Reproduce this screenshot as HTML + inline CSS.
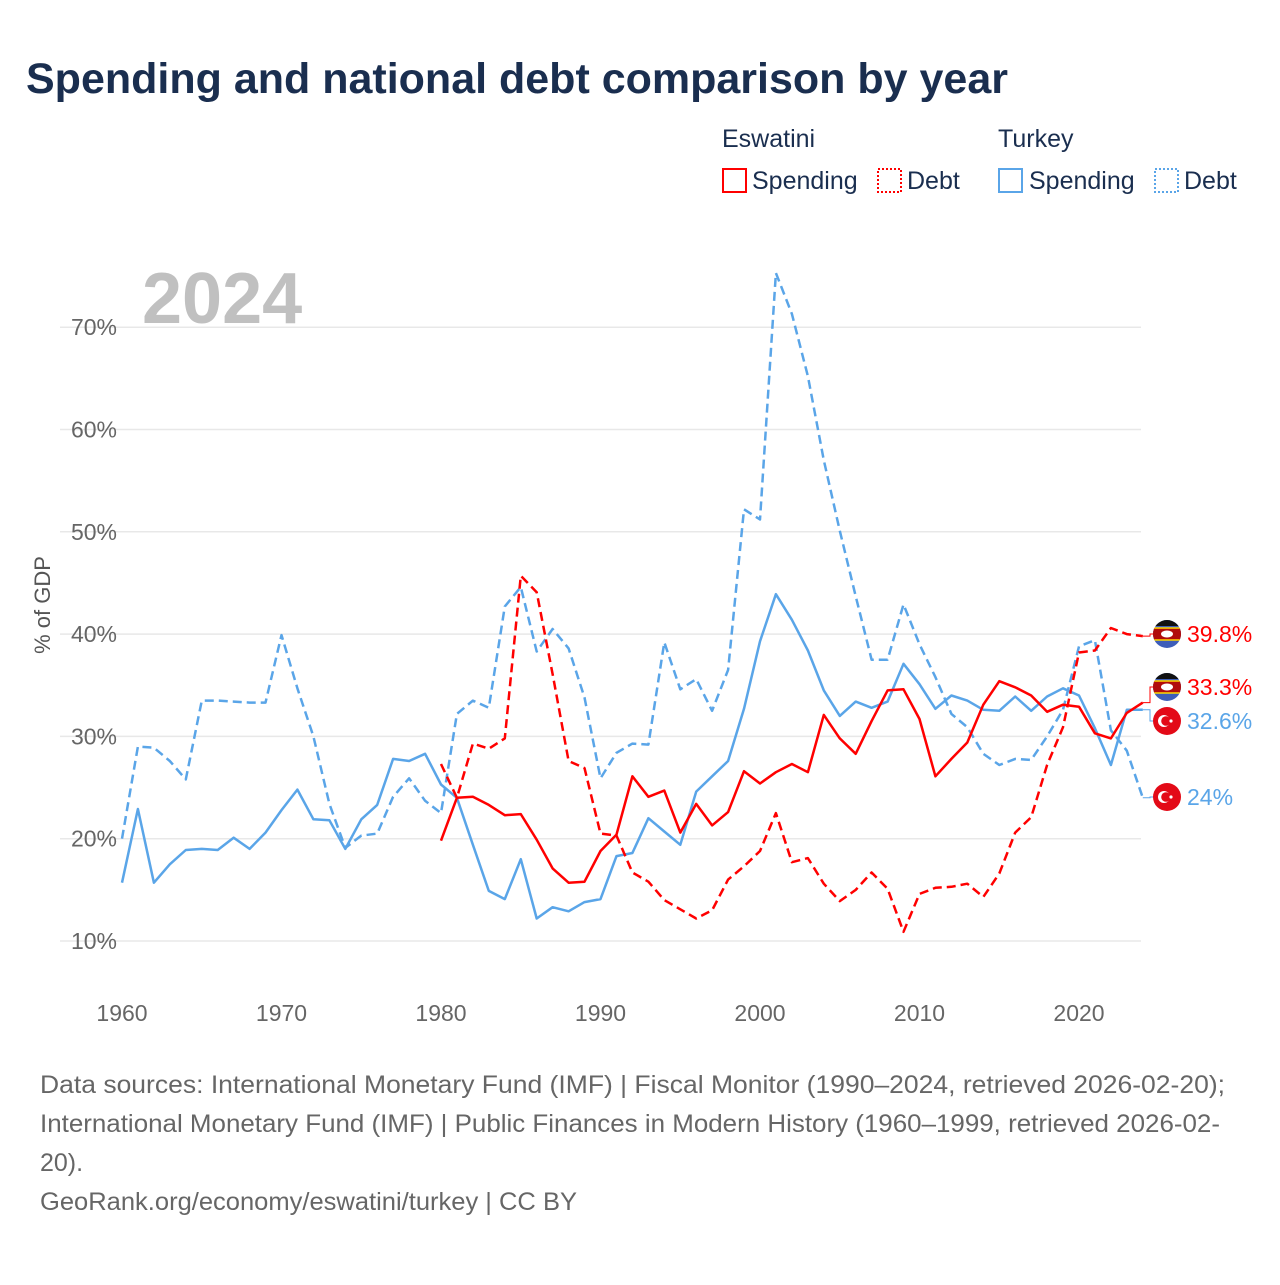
<!DOCTYPE html>
<html><head><meta charset="utf-8"><style>
body{margin:0;background:#fff;font-family:"Liberation Sans",sans-serif;}
svg text{font-family:"Liberation Sans",sans-serif;}
</style></head><body>
<svg width="1280" height="1280" viewBox="0 0 1280 1280">
<defs><clipPath id="fc"><circle cx="0" cy="0" r="14"/></clipPath></defs>
<text x="26" y="93" font-size="43" font-weight="bold" fill="#1a2e4f">Spending and national debt comparison by year</text>
<g font-size="25" fill="#1a2e4f">
<text x="722" y="147" fill="#1a2e4f">Eswatini</text>
<text x="998" y="147" fill="#1a2e4f">Turkey</text>
<rect x="723" y="169" width="23" height="23" fill="none" stroke="red" stroke-width="2"/>
<text x="752" y="189" fill="#1a2e4f">Spending</text>
<rect x="878" y="169" width="23" height="23" fill="none" stroke="red" stroke-width="2" stroke-dasharray="2,2"/>
<text x="907" y="189" fill="#1a2e4f">Debt</text>
<rect x="999" y="169" width="23" height="23" fill="none" stroke="#5aa5e8" stroke-width="2"/>
<text x="1029" y="189" fill="#1a2e4f">Spending</text>
<rect x="1155" y="169" width="23" height="23" fill="none" stroke="#5aa5e8" stroke-width="2" stroke-dasharray="2,2"/>
<text x="1184" y="189" fill="#1a2e4f">Debt</text>
</g>
<text x="142" y="323" font-size="72" font-weight="bold" fill="#c0c0c0">2024</text>
<g id="grid"></g><g id="lines"></g><g id="ends"></g>
<text transform="translate(50,605) rotate(-90)" text-anchor="middle" font-size="22" fill="#555">% of GDP</text>
<g font-size="25" fill="#666">
<text x="40" y="1093" textLength="1185" lengthAdjust="spacingAndGlyphs">Data sources: International Monetary Fund (IMF) | Fiscal Monitor (1990–2024, retrieved 2026-02-20);</text>
<text x="40" y="1132" textLength="1180" lengthAdjust="spacingAndGlyphs">International Monetary Fund (IMF) | Public Finances in Modern History (1960–1999, retrieved 2026-02-</text>
<text x="40" y="1171">20).</text>
<text x="40" y="1210" textLength="537" lengthAdjust="spacingAndGlyphs">GeoRank.org/economy/eswatini/turkey | CC BY</text>
</g>
</svg>
<script>
const yTicks=[10,20,30,40,50,60,70];
const xTicks=[1960,1970,1980,1990,2000,2010,2020];
const turkeySpending=[15.7,22.9,15.7,17.5,18.9,19.0,18.9,20.1,19.0,20.6,22.8,24.8,21.9,21.8,19.0,21.9,23.3,27.8,27.6,28.3,25.3,24.0,19.4,14.9,14.1,18.0,12.2,13.3,12.9,13.8,14.1,18.3,18.6,22.0,20.7,19.4,24.6,26.1,27.6,32.7,39.3,43.9,41.4,38.4,34.5,32.0,33.4,32.8,33.4,37.1,35.1,32.7,34.0,33.5,32.6,32.5,33.9,32.5,33.9,34.7,34.0,30.8,27.2,32.6,32.6];
const turkeyDebt=[20.0,29.0,28.9,27.6,25.8,33.5,33.5,33.4,33.3,33.3,39.9,34.7,30.0,23.4,19.1,20.3,20.5,24.1,25.9,23.7,22.5,32.2,33.5,32.8,42.7,44.6,38.3,40.5,38.6,33.8,25.9,28.4,29.3,29.2,39.2,34.6,35.6,32.5,36.5,52.2,51.2,75.3,71.3,65.2,57.0,50.1,43.7,37.5,37.5,42.9,39.0,35.8,32.2,30.9,28.3,27.2,27.8,27.7,30.0,32.6,38.8,39.4,30.6,28.6,24.0];
const eswSpending=[19.8,24.0,24.1,23.3,22.3,22.4,19.9,17.1,15.7,15.8,18.8,20.4,26.1,24.1,24.7,20.6,23.4,21.3,22.6,26.6,25.4,26.5,27.3,26.5,32.1,29.8,28.3,31.5,34.5,34.6,31.7,26.1,27.8,29.4,33.1,35.4,34.8,34.0,32.4,33.1,32.9,30.3,29.8,32.3,33.3];
const eswDebt=[27.3,24.0,29.3,28.8,29.8,45.7,44.1,36.1,27.6,26.9,20.5,20.3,16.7,15.8,14.0,13.1,12.2,13.0,16.0,17.3,18.8,22.5,17.7,18.1,15.6,13.9,15.0,16.7,15.1,10.9,14.6,15.2,15.3,15.6,14.3,16.6,20.6,22.1,27.2,30.9,38.2,38.4,40.6,40.0,39.8];
const NS='http://www.w3.org/2000/svg';
const X=yr=>122+(yr-1960)*15.95;
const Y=v=>941-(v-10)*10.23;
function mk(t,a,p){const e=document.createElementNS(NS,t);for(const k in a)e.setAttribute(k,a[k]);p.appendChild(e);return e;}
const grid=document.getElementById('grid');
yTicks.forEach(v=>{
 const l=mk('line',{x1:60,x2:1141,y1:Y(v),y2:Y(v),stroke:'#e8e8e8','stroke-width':1.5},grid);
 
 
 const t=mk('text',{x:117,y:Y(v)+8,'text-anchor':'end','font-size':23,fill:'#666'},grid);
 t.textContent=v+'%';
 
 
});
xTicks.forEach(yr=>{
 const t=mk('text',{x:X(yr),y:1021,'text-anchor':'middle','font-size':23,fill:'#666'},grid);
 t.textContent=yr;
 
 
});
const lines=document.getElementById('lines');
function series(arr,start,color,dash,name){
 const d=arr.map((v,i)=>(i?'L':'M')+X(start+i).toFixed(1)+','+Y(v).toFixed(1)).join('');
 const p=mk('path',{d:d,fill:'none',stroke:color,'stroke-width':2.5,'stroke-linejoin':'round'},lines);
 if(dash)p.setAttribute('stroke-dasharray','9,5');
 
 
}
series(turkeyDebt,1960,'#5aa5e8',true,'turkey-debt-line');
series(turkeySpending,1960,'#5aa5e8',false,'turkey-spending-line');
series(eswDebt,1980,'red',true,'eswatini-debt-line');
series(eswSpending,1980,'red',false,'eswatini-spending-line');
const ends=document.getElementById('ends');
function endLabel(v,ly,color,flag,name){
 const x0=X(2024);
 mk('path',{d:`M${x0},${Y(v)}H1150V${ly}H1154`,fill:'none',stroke:color,'stroke-width':1},ends);
 const g=mk('g',{},ends);
 
 
 const f=mk('g',{transform:`translate(1167,${ly})`,'clip-path':'url(#fc)'},g);
 if(flag==='sz'){
  mk('rect',{x:-15,y:-15,width:30,height:30,fill:'#3e5eb9'},f);
  mk('rect',{x:-15,y:-15,width:30,height:7,fill:'#111'},f);
  mk('rect',{x:-15,y:-6,width:30,height:12,fill:'#b10c0c',stroke:'#ffd900','stroke-width':1.5},f);
  mk('ellipse',{cx:0,cy:0,rx:6,ry:3.5,fill:'#fff'},f);
 }else{
  mk('rect',{x:-15,y:-15,width:30,height:30,fill:'#e30a17'},f);
  mk('circle',{cx:-3,cy:0,r:6,fill:'#fff'},f);
  mk('circle',{cx:-1,cy:0,r:4.8,fill:'#e30a17'},f);
  mk('circle',{cx:4,cy:0,r:1.6,fill:'#fff'},f);
 }
 const t=mk('text',{x:1187,y:ly+8,'font-size':23,fill:color},g);
 t.textContent=(Math.round(v*10)/10)+'%';
}
endLabel(eswDebt[eswDebt.length-1],634,'red','sz','eswatini-debt-end-label');
endLabel(eswSpending[eswSpending.length-1],687,'red','sz','eswatini-spending-end-label');
endLabel(turkeySpending[turkeySpending.length-1],721,'#5aa5e8','tr','turkey-spending-end-label');
endLabel(turkeyDebt[turkeyDebt.length-1],797,'#5aa5e8','tr','turkey-debt-end-label');
</script>
</body></html>
